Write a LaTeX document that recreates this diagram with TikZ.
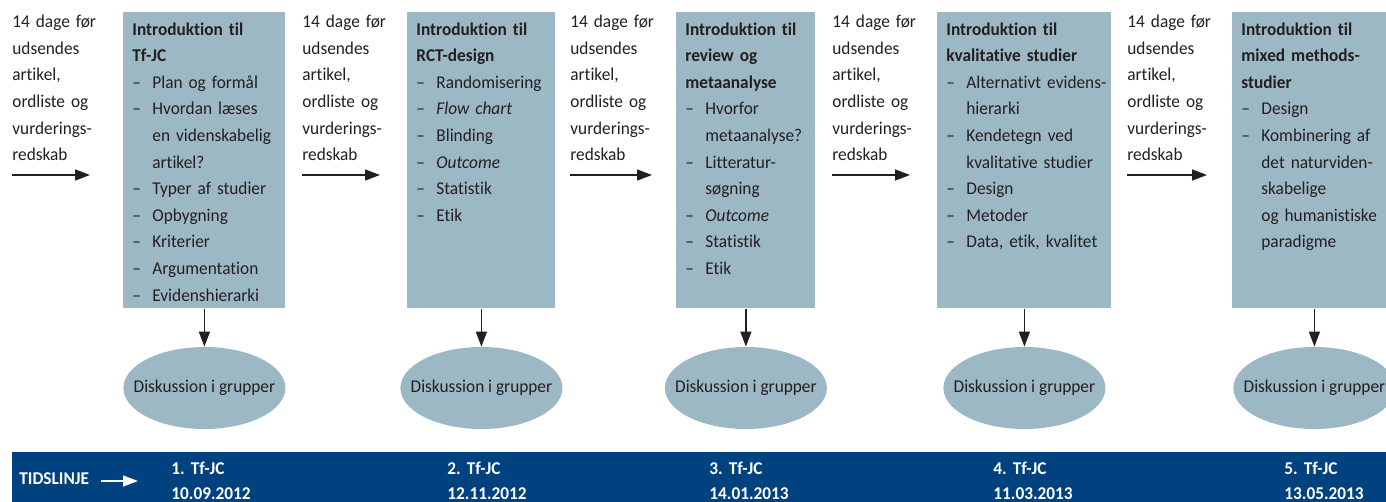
\documentclass[tikz,border=0pt]{standalone}
\usepackage{fontspec}
\setmainfont{Carlito}[Ligatures=NoCommon, FakeStretch=0.96]
\usepackage{tikz}
\usetikzlibrary{arrows.meta}
\usetikzlibrary{shapes.geometric}

\definecolor{boxblue}{RGB}{157,184,197}
\definecolor{linjeblue}{RGB}{0,65,128}
\definecolor{inkgray}{RGB}{35,31,32}

\newcommand{\pkt}[1]{\makebox[10pt][l]{--}\mbox{#1}}
\newcommand{\vid}[1]{\hspace*{10pt}\mbox{#1}}

\tikzset{
	emne/.style={fill=boxblue, anchor=north west, inner xsep=4.5pt, inner ysep=0pt,
		text height=11.35pt, text depth=136.65pt, align=left},
	frist/.style={anchor=base west, inner sep=0pt, text width=50pt, align=left},
	disk/.style={ellipse, fill=boxblue, minimum width=81pt, minimum height=41pt, inner sep=0pt},
	pil/.style={-{Triangle[length=7.5pt,width=5.5pt]}, line width=0.7pt, draw=inkgray},
	dato/.style={anchor=base west, inner sep=0pt, text width=60pt, align=left, text=white,
		font=\fontsize{9}{12.5}\selectfont\bfseries}
}

\begin{document}
\frenchspacing
\begin{tikzpicture}[x=0.5pt, y=-0.5pt, font=\fontsize{9}{13.3}\selectfont, text=inkgray]
				\clip (0,0) rectangle (1386,502);
				\foreach \n/\x/\e in {1/12/90, 2/302/380, 3/570/652, 4/832/910, 5/1127/1207}
				{
					\node[frist] (f\n) at (\x,27.7) {14 dage før\\udsendes\\artikel,\\ordliste og\\vurderings-\\redskab};
					\coordinate (p\n) at (\x,175);
					\coordinate (q\n) at (\e,175);
					\draw[pil] (p\n) -- (q\n);
				}
				\node[emne, text width=72pt] (b1) at (123,12) {\textbf{Introduktion til}\\\textbf{Tf-JC}\\
					\pkt{Plan og formål}\\\pkt{Hvordan læses}\\\vid{en videnskabelig}\\\vid{artikel?}\\
					\pkt{Typer af studier}\\\pkt{Opbygning}\\\pkt{Kriterier}\\\pkt{Argumentation}\\\pkt{Evidenshierarki}};
				\node[emne, text width=65pt] (b2) at (407,12) {\textbf{Introduktion til}\\\textbf{RCT-design}\\
					\pkt{Randomisering}\\\pkt{\emph{Flow chart}}\\\pkt{Blinding}\\\pkt{\emph{Outcome}}\\
					\pkt{Statistik}\\\pkt{Etik}};
				\node[emne, text width=60.5pt] (b3) at (676,12) {\textbf{Introduktion til}\\\textbf{review og}\\\textbf{metaanalyse}\\
					\pkt{Hvorfor}\\\vid{metaanalyse?}\\\pkt{Litteratur-}\\\vid{søgning}\\\pkt{\emph{Outcome}}\\
					\pkt{Statistik}\\\pkt{Etik}};
				\node[emne, text width=78pt] (b4) at (937,12) {\textbf{Introduktion til}\\\textbf{kvalitative studier}\\
					\pkt{Alternativt evidens-}\\\vid{hierarki}\\\pkt{Kendetegn ved}\\\vid{kvalitative studier}\\
					\pkt{Design}\\\pkt{Metoder}\\\pkt{Data, etik, kvalitet}};
				\node[emne, text width=73pt] (b5) at (1232,12) {\textbf{Introduktion til}\\\textbf{mixed methods-}\\\textbf{studier}\\
					\pkt{Design}\\\pkt{Kombinering af}\\\vid{det naturviden-}\\\vid{skabelige}\\
					\vid{og humanistiske}\\\vid{paradigme}};
				\foreach \n in {1,...,5}
				{
					\node[disk] (d\n) at (b\n.south |- 0,388) {\makebox[0pt]{Diskussion i grupper}};
					\draw[pil] (b\n.south) -- (d\n.north);
				}
				\fill[linjeblue] (12,452) rectangle (1386,510);
				\node[anchor=base west, inner sep=0pt, text=white, font=\fontsize{9}{12.5}\selectfont\bfseries] (tl) at (19,484.8) {TIDSLINJE};
				\coordinate (w1) at (101,481);
				\coordinate (w2) at (138,481);
				\draw[pil, draw=white] (w1) -- (w2);
				\node[dato] (m1) at (171,474) {1. Tf-JC\\10.09.2012};
				\node[dato] (m2) at (447,474) {2. Tf-JC\\12.11.2012};
				\node[dato] (m3) at (709,474) {3. Tf-JC\\14.01.2013};
				\node[dato] (m4) at (993,474) {4. Tf-JC\\11.03.2013};
				\node[dato] (m5) at (1284,474) {5. Tf-JC\\13.05.2013};
\end{tikzpicture}
\end{document}
